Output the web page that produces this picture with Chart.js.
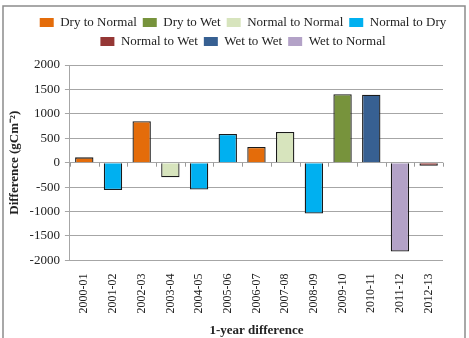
<!DOCTYPE html>
<html>
<head>
<meta charset="utf-8">
<script src="https://cdn.jsdelivr.net/npm/chart.js@4/dist/chart.umd.min.js"></script>
<style>
  body { margin: 0; background: #fff; }
  canvas { display: block; }
</style>
</head>
<body>
<canvas id="chart" width="469" height="338"></canvas>
<script>
const periods = ['2000-01', '2001-02', '2002-03', '2003-04', '2004-05', '2005-06', '2006-07',
  '2007-08', '2008-09', '2009-10', '2010-11', '2011-12', '2012-13'];
const differences = [110, -560, 850, -300, -550, 590, 320, 630, -1040, 1400, 1390, -1820, -60];
const transitions = ['Dry to Normal', 'Normal to Dry', 'Dry to Normal', 'Normal to Normal', 'Normal to Dry',
  'Normal to Dry', 'Dry to Normal', 'Normal to Normal', 'Normal to Dry', 'Dry to Wet', 'Wet to Wet',
  'Wet to Normal', 'Normal to Wet'];
const seriesNames = ['Dry to Normal', 'Dry to Wet', 'Normal to Normal', 'Normal to Dry',
  'Normal to Wet', 'Wet to Wet', 'Wet to Normal'];
const seriesColors = ['#E46C0A', '#77933C', '#D7E4BD', '#00B0F0', '#953735', '#376092', '#B3A2C7'];
const yTicks = [-2000, -1500, -1000, -500, 0, 500, 1000, 1500, 2000];

const serif = 'Liberation Serif, Times New Roman, serif';

// one dataset per transition type, null where the year belongs to another type
const datasets = seriesNames.map((name, k) => ({
  label: name,
  data: differences.map((v, i) => transitions[i] === name ? v : null),
  backgroundColor: seriesColors[k],
  borderColor: '#1a1a1a',
  borderWidth: 1.3,
  barPercentage: 0.64,
  categoryPercentage: 1
}));

// frame round the picture + little ticks on the zero line
const extras = {
  id: 'extras',
  beforeDraw(chart) {
    const c = chart.ctx;
    c.save();
    c.fillStyle = '#fff';
    c.fillRect(0, 0, chart.width, chart.height);
    c.strokeStyle = '#8c8c8c';
    c.lineWidth = 1.5;
    c.beginPath();
    c.moveTo(3, 345);
    c.lineTo(3, 6);
    c.lineTo(465, 6);
    c.lineTo(465, 345);
    c.stroke();
    c.restore();
  },
  afterDatasetsDraw(chart) {
    const x = chart.scales.x, y = chart.scales.y;
    const y0 = y.getPixelForValue(0);
    const w = x.getPixelForValue(1) - x.getPixelForValue(0);
    const c = chart.ctx;
    c.save();
    c.strokeStyle = '#9a9a9a';
    c.lineWidth = 1;
    c.beginPath();
    for (let i = 0; i <= periods.length; i++) {
      const px = Math.round(x.getPixelForValue(0) - w / 2 + i * w) + 0.5;
      c.moveTo(px, y0);
      c.lineTo(px, y0 + 4);
    }
    c.stroke();
    c.restore();
  },
  afterLayout(chart) {
    // Excel legend sits a bit right of centre and higher above the plot
    chart.legend.left += 18;
    chart.legend.right += 18;
    chart.legend.top -= 7;
    chart.legend.bottom -= 7;
  }
};

new Chart(document.getElementById('chart'), {
  type: 'bar',
  data: { labels: periods, datasets },
  plugins: [extras],
  options: {
    responsive: false,
    animation: false,
    layout: { padding: { top: 17, left: 7, right: 26, bottom: 0 } },
    plugins: {
      tooltip: { enabled: false },
      legend: {
        position: 'top',
        labels: {
          font: { family: serif, size: 13 },
          color: '#222',
          boxWidth: 14,
          boxHeight: 9,
          padding: 6,
          generateLabels(chart) {
            return Chart.defaults.plugins.legend.labels.generateLabels(chart)
              .map(l => ({ ...l, lineWidth: 0 }));
          }
        }
      }
    },
    scales: {
      x: {
        stacked: true,
        grid: { display: false },
        border: { display: false },
        ticks: {
          font: { family: serif, size: 12 },
          color: '#222',
          minRotation: 90,
          maxRotation: 90,
          padding: 5
        },
        title: {
          display: true,
          text: '1-year difference',
          font: { family: serif, size: 13, weight: 'bold' },
          color: '#222',
          padding: { top: 4, bottom: 0 }
        }
      },
      y: {
        stacked: true,
        min: -2000,
        max: 2000,
        afterBuildTicks(scale) {
          scale.ticks = yTicks.map(v => ({ value: v }));
        },
        grid: { color: '#a6a6a6', tickLength: 5 },
        border: { color: '#a6a6a6' },
        ticks: {
          font: { family: serif, size: 13 },
          color: '#222',
          padding: 5,
          callback: v => String(v)
        },
        title: {
          display: true,
          text: 'Difference (gCm⁻²)',
          font: { family: serif, size: 13, weight: 'bold' },
          color: '#222',
          padding: { top: 0, bottom: 2 }
        }
      }
    }
  }
});
</script>
</body>
</html>
